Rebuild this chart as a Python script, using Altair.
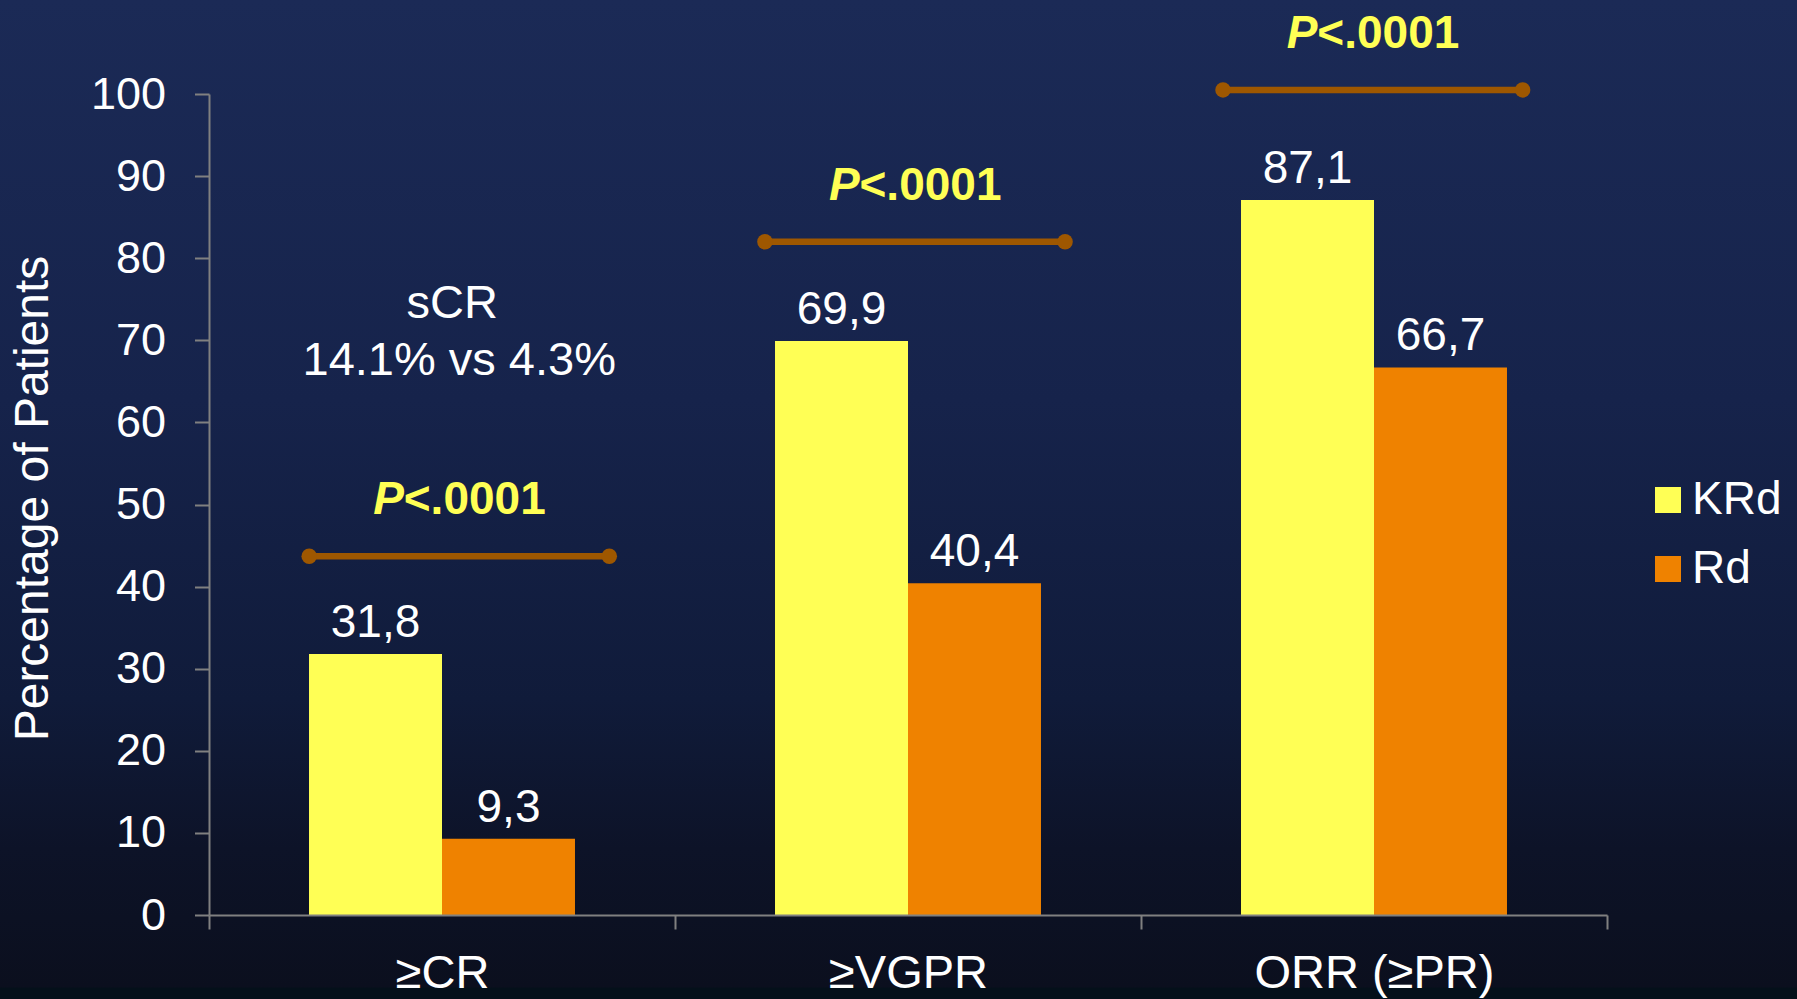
import altair as alt
import pandas as pd

# Response categories and the two treatment arms
categories = ["≥CR", "≥VGPR", "ORR (≥PR)"]
series = ["KRd", "Rd"]
krd_values = [31.8, 69.9, 87.1]
rd_values = [9.3, 40.4, 66.7]
series_colors = ["#FFFF55", "#EF8200"]

# Significance brackets: x in category units (0..3), y in percent
bracket_start = [0.215, 1.193, 2.176]
bracket_end = [0.859, 1.837, 2.819]
bracket_level = [43.7, 82.0, 100.5]
p_text = ["<.0001", "<.0001", "<.0001"]

# Free-standing note above the first group
note_title = "sCR"
note_detail = "14.1% vs 4.3%"
note_x = [0.537]
note_y = [72.7]

FONT = "Liberation Sans"
W, H = 1398, 821
PAD_L, PAD_T = 209, 94
TOTAL_W, TOTAL_H = 1797, 999
Y_TITLE = "Percentage of Patients"
AXIS_GREY = "#808080"

rows = []
for cat, k, r in zip(categories, krd_values, rd_values):
    for s, v in zip(series, (k, r)):
        rows.append({"category": cat, "series": s, "pct": v,
                     "label": f"{v:.1f}".replace(".", ",")})
bars_df = pd.DataFrame(rows)

brackets_df = pd.DataFrame({"start": bracket_start, "end": bracket_end,
                            "pct": bracket_level, "p": p_text})
note_df = pd.DataFrame({"xpos": note_x, "pct": note_y})

x_band = alt.Scale(domain=categories, paddingInner=0, paddingOuter=0)
x_off = alt.Scale(domain=series, paddingInner=0, paddingOuter=0.752)
y_scale = alt.Scale(domain=[0, 100], nice=False, zero=True)
x_lin = alt.Scale(domain=[0, 3], nice=False, zero=False)

x_axis = alt.Axis(tickBand="extent", labelAngle=0, labelFontSize=47,
                  labelFont=FONT, labelColor="white", labelPadding=21,
                  labelLimit=0, tickSize=14, tickColor=AXIS_GREY, tickWidth=2,
                  domainColor=AXIS_GREY, domainWidth=2, zindex=1)
y_axis = alt.Axis(values=list(range(0, 101, 10)), grid=False,
                  labelFontSize=45, labelFont=FONT, labelColor="white",
                  labelPadding=29, tickSize=14.5, tickColor=AXIS_GREY,
                  tickWidth=2, domainColor=AXIS_GREY, domainWidth=2,
                  titleFont=FONT, titleFontSize=48, titleColor="white",
                  titleFontWeight="normal", titleAngle=270,
                  titleBaseline="alphabetic", titleAlign="center",
                  titleX=-162, titleY=404, zindex=1)

# page background: vertical navy-to-black gradient
background = alt.Chart(alt.Data(values=[{}])).mark_rect(
    color=alt.Gradient(
        gradient="linear", x1=0, x2=0, y1=0, y2=1,
        stops=[
            alt.GradientStop(color="#1B2A56", offset=0),
            alt.GradientStop(color="#16234B", offset=0.4),
            alt.GradientStop(color="#101B3A", offset=0.7),
            alt.GradientStop(color="#0D1328", offset=0.85),
            alt.GradientStop(color="#0B0F1E", offset=0.988),
            alt.GradientStop(color="#04101A", offset=0.989),
            alt.GradientStop(color="#04101A", offset=1),
        ],
    )
).encode(
    x=alt.value(-PAD_L), x2=alt.value(TOTAL_W - PAD_L),
    y=alt.value(-PAD_T), y2=alt.value(TOTAL_H - PAD_T),
)

bars = alt.Chart(bars_df).mark_bar(stroke=None).encode(
    x=alt.X("category:N", scale=x_band, title=None, axis=x_axis),
    xOffset=alt.XOffset("series:N", scale=x_off),
    y=alt.Y("pct:Q", scale=y_scale, title=Y_TITLE, axis=y_axis),
    color=alt.Color("series:N",
                    scale=alt.Scale(domain=series, range=series_colors),
                    legend=alt.Legend(orient="none", legendX=1436, legendY=383,
                                      title=None, symbolType="square",
                                      symbolSize=676, symbolStrokeWidth=0,
                                      labelFontSize=46, labelFont=FONT,
                                      labelColor="white", labelOffset=1,
                                      rowPadding=23, padding=0)),
)

values = alt.Chart(bars_df).mark_text(
    font=FONT, fontSize=46, color="white", baseline="alphabetic", dy=-17
).encode(
    x=alt.X("category:N", scale=x_band, title=None, axis=x_axis),
    xOffset=alt.XOffset("series:N", scale=x_off),
    y=alt.Y("pct:Q", scale=y_scale, title=Y_TITLE),
    text="label:N",
)

bar_layer = alt.layer(bars, values)

BRACKET = "#9E5700"
rules = alt.Chart(brackets_df).mark_rule(color=BRACKET, strokeWidth=6.5).encode(
    x=alt.X("start:Q", scale=x_lin, axis=None),
    x2="end:Q",
    y=alt.Y("pct:Q", scale=y_scale, title=Y_TITLE),
)

dots = alt.Chart(brackets_df).transform_fold(
    ["start", "end"], as_=["side", "xpos"]
).mark_circle(color=BRACKET, opacity=1, size=240).encode(
    x=alt.X("xpos:Q", scale=x_lin, axis=None),
    y=alt.Y("pct:Q", scale=y_scale, title=Y_TITLE),
)

p_letter = alt.Chart(brackets_df).transform_calculate(
    mid="(datum.start + datum.end) / 2"
).mark_text(
    text="P", font=FONT, fontSize=46, fontWeight="bold", fontStyle="italic",
    color="#FFFF55", align="left", baseline="alphabetic", dx=-86, dy=-42
).encode(
    x=alt.X("mid:Q", scale=x_lin, axis=None),
    y=alt.Y("pct:Q", scale=y_scale, title=Y_TITLE),
)

p_value = alt.Chart(brackets_df).transform_calculate(
    mid="(datum.start + datum.end) / 2"
).mark_text(
    font=FONT, fontSize=46, fontWeight="bold", color="#FFFF55",
    align="left", baseline="alphabetic", dx=-55.5, dy=-42
).encode(
    x=alt.X("mid:Q", scale=x_lin, axis=None),
    y=alt.Y("pct:Q", scale=y_scale, title=Y_TITLE),
    text="p:N",
)

note_head = alt.Chart(note_df).mark_text(
    text=note_title, font=FONT, fontSize=47, color="white",
    align="center", baseline="alphabetic", dx=-7
).encode(
    x=alt.X("xpos:Q", scale=x_lin, axis=None),
    y=alt.Y("pct:Q", scale=y_scale, title=Y_TITLE),
)

note_body = alt.Chart(note_df).mark_text(
    text=note_detail, font=FONT, fontSize=47, color="white",
    align="center", baseline="alphabetic", dy=57
).encode(
    x=alt.X("xpos:Q", scale=x_lin, axis=None),
    y=alt.Y("pct:Q", scale=y_scale, title=Y_TITLE),
)

chart = alt.layer(
    background, bar_layer, rules, dots, p_letter, p_value, note_head, note_body
).resolve_scale(
    x="independent"
).properties(
    width=W, height=H,
    autosize=alt.AutoSizeParams(type="none"),
    padding={"left": PAD_L, "top": PAD_T,
             "right": TOTAL_W - PAD_L - W, "bottom": TOTAL_H - PAD_T - H},
    background="#0C1224",
).configure_view(
    stroke="transparent"
)

chart.save("out.html", embed_options={"renderer": "svg", "actions": False})
